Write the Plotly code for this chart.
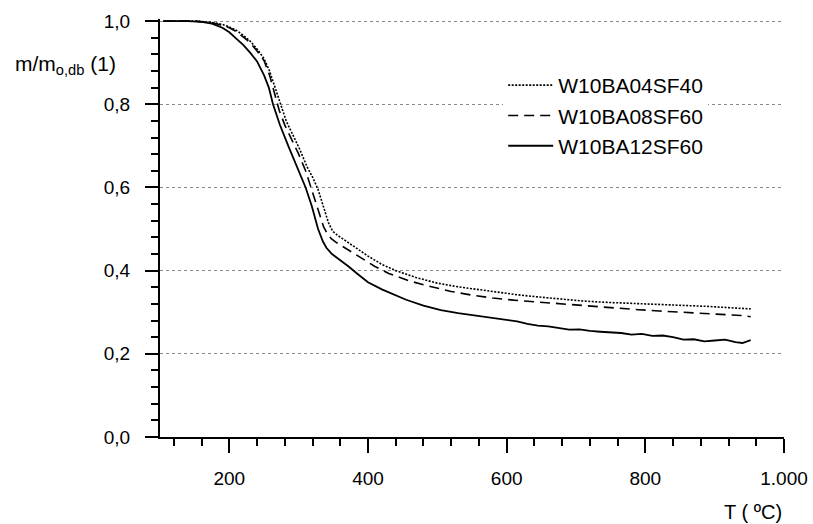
import plotly.graph_objects as go

# ---- data ----
t_04 = [105, 150, 175, 190, 200, 210, 220, 230, 240, 250, 258, 266, 274, 282, 292, 302, 312, 320, 328, 336,
        343, 349, 356, 365, 380, 400, 420, 440, 470, 500, 530, 560, 590, 620, 650, 680, 710, 740, 770, 800,
        830, 860, 890, 920, 952]
m_04 = [1.0, 1.0, 0.997, 0.992, 0.986, 0.978, 0.966, 0.952, 0.933, 0.91, 0.88, 0.84, 0.795, 0.76, 0.725,
        0.69, 0.65, 0.625, 0.595, 0.55, 0.515, 0.495, 0.485, 0.475, 0.457, 0.435, 0.415, 0.4, 0.383, 0.37,
        0.361, 0.354, 0.347, 0.341, 0.336, 0.331, 0.327, 0.324, 0.322, 0.321, 0.319, 0.317, 0.314, 0.311, 0.308]

t_08 = [105, 150, 175, 190, 200, 210, 220, 230, 240, 250, 258, 265, 272, 280, 290, 300, 310, 320, 328, 336,
        342, 347, 355, 370, 390, 410, 430, 460, 490, 520, 550, 580, 610, 640, 670, 700, 730, 760, 790, 820,
        850, 880, 910, 940, 952]
m_08 = [1.0, 1.0, 0.996, 0.99, 0.984, 0.975, 0.962, 0.948, 0.928, 0.905, 0.87, 0.83, 0.785, 0.75, 0.715,
        0.68, 0.64, 0.59, 0.545, 0.505, 0.487, 0.477, 0.467, 0.452, 0.43, 0.41, 0.393, 0.375, 0.362, 0.35,
        0.341, 0.334, 0.329, 0.325, 0.321, 0.317, 0.313, 0.309, 0.306, 0.303, 0.3, 0.298, 0.295, 0.292, 0.289]

t_12 = [105, 140, 160, 175, 190, 200, 210, 220, 230, 240, 250, 257, 263, 273, 285, 300, 310, 319, 328, 335,
        340, 348, 358, 372, 385, 400, 420, 440, 455, 480, 505, 530, 555, 580, 600, 615, 630, 645, 660, 675,
        690, 705, 720, 735, 750, 765, 780, 795, 810, 825, 840, 855, 870, 885, 900, 915, 930, 940, 952]
m_12 = [1.0, 1.0, 0.998, 0.994, 0.984, 0.973, 0.958, 0.943, 0.924, 0.903, 0.87, 0.84, 0.80, 0.75, 0.70,
        0.64, 0.60, 0.555, 0.50, 0.47, 0.455, 0.44, 0.428, 0.41, 0.392, 0.372, 0.355, 0.34, 0.33, 0.316,
        0.305, 0.298, 0.292, 0.285, 0.28, 0.278, 0.272, 0.268, 0.266, 0.262, 0.258, 0.259, 0.255, 0.253,
        0.252, 0.25, 0.246, 0.248, 0.243, 0.244, 0.24, 0.234, 0.235, 0.23, 0.232, 0.234, 0.228, 0.226, 0.233]

names = ["W10BA04SF40", "W10BA08SF60", "W10BA12SF60"]

x_tickvals = [200, 400, 600, 800, 1000]
x_ticktext = ["200", "400", "600", "800", "1.000"]
y_tickvals = [0.0, 0.2, 0.4, 0.6, 0.8, 1.0]
y_ticktext = ["0,0", "0,2", "0,4", "0,6", "0,8", "1,0"]

FONT = "Liberation Sans, Arial, sans-serif"

fig = go.Figure()
fig.add_trace(go.Scatter(x=t_04, y=m_04, mode="lines", name=names[0],
                         line=dict(color="black", width=1.6, dash="2px,1.5px")))
fig.add_trace(go.Scatter(x=t_08, y=m_08, mode="lines", name=names[1],
                         line=dict(color="black", width=1.6, dash="10px,6px")))
fig.add_trace(go.Scatter(x=t_12, y=m_12, mode="lines", name=names[2],
                         line=dict(color="black", width=1.8)))

fig.update_layout(
    width=813, height=524,
    margin=dict(l=160, r=29, t=19, b=87, autoexpand=False),
    paper_bgcolor="white", plot_bgcolor="white",
    font=dict(family=FONT, size=19, color="black"),
    showlegend=True,
    legend=dict(x=0.55, y=0.89, xanchor="left", yanchor="top",
                bgcolor="white", borderwidth=0, font=dict(size=21),
                itemwidth=45, tracegroupgap=0),
    xaxis=dict(range=[100, 1000], showline=True, linecolor="black", linewidth=2,
               ticks="outside", ticklen=14, tickwidth=2, tickcolor="black",
               tickvals=x_tickvals, ticktext=x_ticktext, showgrid=False, zeroline=False,
               ticklabelstandoff=9,
               minor=dict(tickmode="linear", tick0=0, dtick=40, ticks="outside",
                          ticklen=7, tickwidth=2, tickcolor="black", showgrid=False)),
    yaxis=dict(range=[0, 1.005], showline=True, linecolor="black", linewidth=2,
               ticks="outside", ticklen=13, tickwidth=2, tickcolor="black",
               tickvals=y_tickvals, ticktext=y_ticktext, showgrid=True,
               gridcolor="#8a8a8a", gridwidth=1, griddash="dot", zeroline=False,
               ticklabelstandoff=11,
               minor=dict(tickmode="linear", tick0=0, dtick=0.04, ticks="outside",
                          ticklen=7, tickwidth=2, tickcolor="black", showgrid=False)),
    annotations=[
        dict(text="m/m<sub>o,db</sub> (1)", xref="paper", yref="paper",
             x=(13 - 160) / 624, y=(437 - 65) / 418.4, xanchor="left", yanchor="middle",
             showarrow=False, font=dict(size=21)),
        dict(text="T ( ºC)", xref="paper", yref="paper",
             x=1.0, y=(437 - 512) / 418.4, xanchor="right", yanchor="middle",
             showarrow=False, font=dict(size=20)),
    ],
)

fig.write_html("out.html", config={"displayModeBar": False},
               post_script="document.body.style.margin='0';document.body.style.padding='0';")
